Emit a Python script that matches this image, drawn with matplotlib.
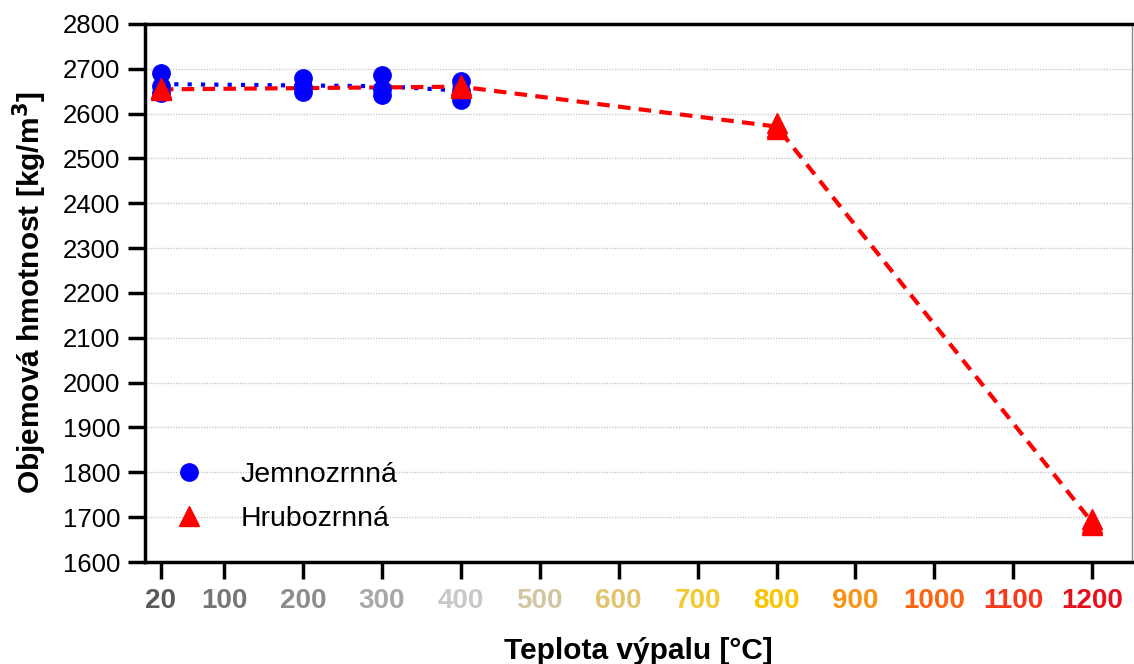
import numpy as np
import matplotlib
matplotlib.use('Agg')
import matplotlib.pyplot as plt

# Fine-grained samples (Jemnozrnna): three measurements per temperature
fine_temps = [20, 200, 300, 400]
fine_vals = [[2690, 2662, 2645],
             [2680, 2660, 2648],
             [2687, 2655, 2641],
             [2673, 2650, 2631]]

# Coarse-grained samples (Hrubozrnna)
coarse_temps = [20, 400, 800, 1200]
coarse_vals = [[2656, 2654, 2652],
               [2663, 2660, 2657],
               [2578, 2570, 2565],
               [1695, 1688, 1682]]

xticks = [20, 100, 200, 300, 400, 500, 600, 700, 800, 900, 1000, 1100, 1200]
xtick_colors = ['#5a5a5a', '#767676', '#8c8c8c', '#a8a8a8', '#c8c8c8', '#d2c6a2',
                '#e2c46e', '#f2c92e', '#fcc400', '#fa9216', '#fb6412', '#f8371a', '#e60f1e']

plt.rcParams['font.family'] = ['Liberation Sans', 'DejaVu Sans']

fig = plt.figure(figsize=(11.34, 6.64), dpi=100)
ax = fig.add_axes([0.128, 0.1536, 0.87, 0.8104])

fine_mean = [np.mean(v) for v in fine_vals]
coarse_mean = [np.mean(v) for v in coarse_vals]

ax.plot(fine_temps, fine_mean, color='#0000ff', ls=(0, (1, 2.2)), lw=3, zorder=2)
ax.plot(coarse_temps, coarse_mean, color='#ff0000', ls=(0, (3, 2)), lw=3, zorder=3)

for t, vals in zip(fine_temps, fine_vals):
    ax.plot([t] * len(vals), vals, 'o', color='#0000ff', ms=12.5, ls='none', zorder=4)
for t, vals in zip(coarse_temps, coarse_vals):
    ax.plot([t] * len(vals), vals, '^', color='#ff0000', ms=14, ls='none', zorder=5)

h1, = ax.plot([], [], 'o', color='#0000ff', ms=12.5, ls='none')
h2, = ax.plot([], [], '^', color='#ff0000', ms=14, ls='none')
ax.legend([h1, h2], ['Jemnozrnná', 'Hrubozrnná'], loc='lower left',
          bbox_to_anchor=(-0.01, 0.008), frameon=False, fontsize=20.5,
          handletextpad=0.8, labelspacing=0.65)

ax.set_xlim(0, 1250)
ax.set_ylim(1600, 2800)
ax.set_yticks(np.arange(1600, 2801, 100))
ax.set_xticks(xticks)
ax.set_xticklabels([str(x) for x in xticks], fontweight='bold', fontsize=20)
for lab, c in zip(ax.get_xticklabels(), xtick_colors):
    lab.set_color(c)
ax.tick_params(axis='y', labelsize=18.5, length=12, width=2.5, pad=6)
ax.tick_params(axis='x', length=12, width=2.5, pad=7)

ax.yaxis.grid(True, ls=(0, (1, 1)), color='#c8c8c8', lw=1)
ax.set_axisbelow(True)

for s in ['left', 'bottom', 'top']:
    ax.spines[s].set_linewidth(2.5)
ax.spines['right'].set_linewidth(1)
ax.spines['right'].set_color('#888888')

ax.set_ylabel('Objemová hmotnost [kg/m$^\\mathbf{3}$]', fontsize=21.5, fontweight='bold', labelpad=10)
ax.set_xlabel('Teplota výpalu [°C]', fontsize=21.5, fontweight='bold', labelpad=16)

fig.savefig('out.png', dpi=100)
